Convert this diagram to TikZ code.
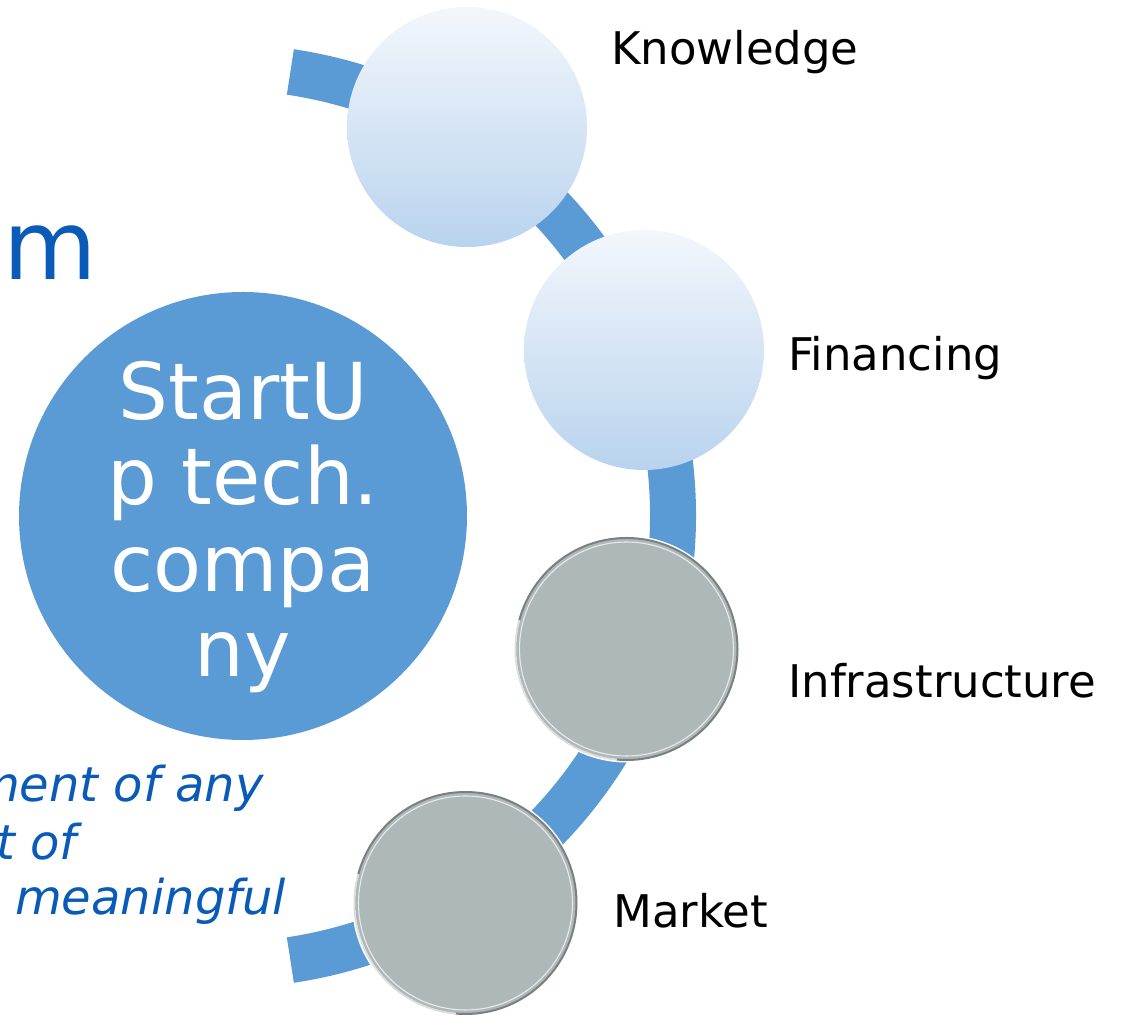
\documentclass[tikz,border=0pt]{standalone}
\usepackage{fontspec}
\setmainfont{DejaVu Sans}
\definecolor{accent}{HTML}{5B9BD5}
\definecolor{titleblue}{HTML}{0A5BB8}
\definecolor{coinfill}{HTML}{AFB8B9}
\definecolor{coinrim}{HTML}{7A8080}
\definecolor{gradtop}{HTML}{F3F7FC}
\definecolor{gradbot}{HTML}{B9D3EE}
\begin{document}
\begin{tikzpicture}[x=1pt,y=1pt,
  lbl/.style={anchor=base west, inner sep=0pt, font=\fontsize{45}{54}\selectfont, text=black},
  bigtxt/.style={anchor=base, inner sep=0pt, font=\fontsize{78.5}{86}\selectfont, text=white},
  bluetxt/.style={inner sep=0pt, text=titleblue, font=\itshape\fontsize{48}{57}\selectfont},
  gradcirc/.style={circle, minimum size=240pt, inner sep=0pt, top color=gradtop, bottom color=gradbot, draw=none},
  coin/.style={circle, minimum size=222pt, inner sep=0pt, fill=coinfill, draw=coinrim, line width=2pt,
    path picture={\draw[white, line width=1.1pt, opacity=0.7] (path picture bounding box.center) circle[radius=107pt];}},
  halo/.style={white, line width=3pt, opacity=0.75},
  band/.style={accent, line width=46pt, line cap=butt}
]
\useasboundingbox (0,0) rectangle (1125,1017);
\clip (0,0) rectangle (1125,1017);

% arc connector
\coordinate (arcC) at (224,501);
\coordinate (arcS) at ([shift={(224,501)}]81.5:449);
\draw[band] (arcS) arc[start angle=81.5, end angle=-81.5, radius=449];

% central circle
\node[circle, minimum size=448pt, inner sep=0pt, fill=accent] (start) at (243,501) {};
\node[bigtxt] (st1) at (243,597) {StartU};
\node[bigtxt] (st2) at (243,512) {p tech.};
\node[bigtxt] (st3) at (243,425) {compa};
\node[bigtxt] (st4) at (243,340) {ny};

% partial blue texts at left
\node[inner sep=0pt, anchor=base west, text=titleblue, font=\fontsize{96}{110}\selectfont] (ttl) at (3,737) {m};
\node[bluetxt, anchor=base east] (it1) at (264,215) {ment of any};
\node[bluetxt, anchor=base east] (it2) at (77,157) {t of};
\node[bluetxt, anchor=base west] (it3) at (15,102) {meaningful};

% step circles
\node[gradcirc] (know) at (467,890) {};
\node[gradcirc] (fin) at (644,667) {};

\fill[white] (626.5,368) circle[radius=113.5];
\node[coin] (infra) at (626.5,368) {};
\draw[halo] ([shift={(626.5,368)}]165:111.5) arc[start angle=165, end angle=265, radius=111.5];

\fill[white] (465.5,114) circle[radius=113.5];
\node[coin] (mkt) at (465.5,114) {};
\draw[halo] ([shift={(465.5,114)}]165:111.5) arc[start angle=165, end angle=265, radius=111.5];

% labels
\node[lbl] (lknow) at (611,952) {Knowledge};
\node[lbl] (lfin) at (788,646) {Financing};
\node[lbl] (linfra) at (788,319) {Infrastructure};
\node[lbl] (lmkt) at (613,89) {Market};
\end{tikzpicture}
\end{document}
